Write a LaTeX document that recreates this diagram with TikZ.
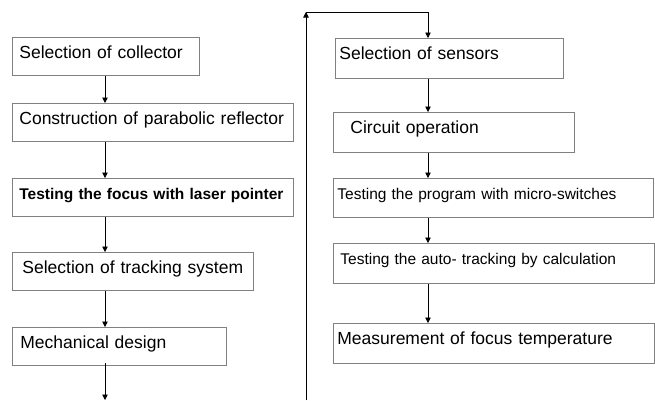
\documentclass[tikz,border=0pt]{standalone}
\usepackage{fontspec}
\setmainfont{Liberation Sans}
\usetikzlibrary{positioning,calc,arrows.meta}
\tikzset{>={Triangle[length=5.5pt,width=5.5pt]}}
\definecolor{boxgray}{RGB}{128,128,128}
\tikzset{
  stage/.style={draw=boxgray,line width=0.8pt,anchor=north west,inner xsep=7pt,inner ysep=0pt,
    text height=21pt,text depth=17pt,align=left,font=\fontsize{17.5}{20}\selectfont},
  stagesmall/.style={stage,font=\fontsize{15.5}{18}\selectfont},
  rstage/.style={text depth=19pt,inner xsep=4pt},
  flow/.style={->,line width=0.8pt},
}

\begin{document}
\begin{tikzpicture}[x=1pt,y=-1pt]
\useasboundingbox (0,0) rectangle (655,400);
\coordinate (colL) at (105,0);
\coordinate (colR) at (428,0);
% left column
\node[stage,text width=173pt] (s1) at (12,37) {Selection of collector};
\node[stage,text width=267pt] (s2) at (12,103) {Construction of parabolic reflector};
\node[stagesmall,text width=267pt] (s3) at (12,178) {\bfseries Testing the focus with laser pointer};
\node[stage,inner xsep=10pt,text width=221pt] (s4) at (12,252) {Selection of tracking system};
\node[stage,inner xsep=8pt,text width=198pt] (s5) at (12,327) {Mechanical design};
% right column
\node[stage,rstage,text width=220pt] (r1) at (335,38) {Selection of sensors};
\node[stage,rstage,inner xsep=17pt,text width=207pt] (r2) at (333,112) {Circuit operation};
\node[stagesmall,rstage,text depth=18pt,text width=312pt] (r3) at (333,178) {Testing the program with micro-switches};
\node[stagesmall,rstage,inner xsep=7pt,text width=307pt] (r4) at (333,243) {Testing the auto- tracking by calculation};
\node[stage,rstage,text width=313pt] (r5) at (333,323) {Measurement of focus temperature};
% connectors
\draw[flow] (s1.south -| colL) -- (s2.north -| colL);
\draw[flow] (s2.south -| colL) -- (s3.north -| colL);
\draw[flow] (s3.south -| colL) -- (s4.north -| colL);
\draw[flow] (s4.south -| colL) -- (s5.north -| colL);
\coordinate (endL) at (105,400);
\draw[flow] ([yshift=3pt]s5.south -| colL) -- (endL);
\draw[flow] (r1.south -| colR) -- (r2.north -| colR);
\draw[flow] (r2.south -| colR) -- (r3.north -| colR);
\draw[flow] (r3.south -| colR) -- (r4.north -| colR);
\draw[flow] (r4.south -| colR) -- (r5.north -| colR);
% return line
\coordinate (loopB) at (306,400);
\coordinate (loopT) at (306,12);
\draw[flow] (loopB) -- (loopT);
\draw[flow] (loopT) -- (loopT -| colR) -- (r1.north -| colR);
\end{tikzpicture}
\end{document}
